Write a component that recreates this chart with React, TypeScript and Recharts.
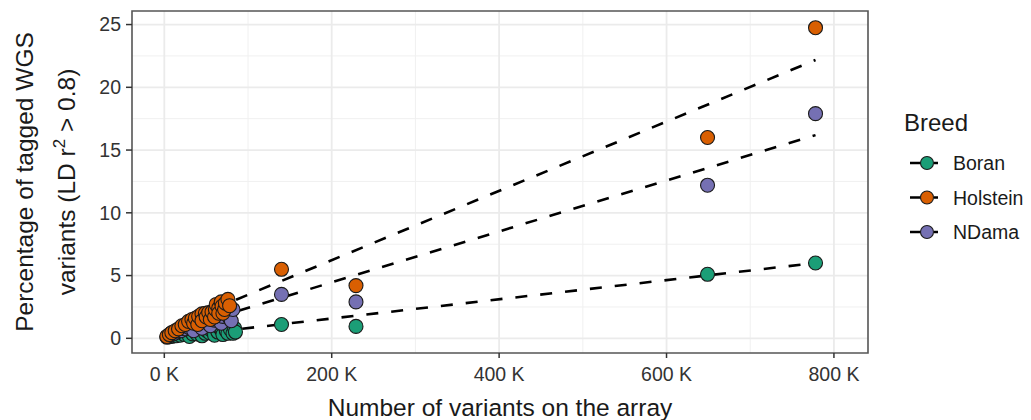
import React from 'react';
import {
  ComposedChart,
  Scatter,
  Line,
  XAxis,
  YAxis,
  CartesianGrid,
  ReferenceArea,
  Legend,
  Label,
} from 'recharts';

// ---------- data ----------
const breeds = ['Boran', 'Holstein', 'NDama'];
const breedColors = ['#1B9E77', '#D95F02', '#7570B3'];

const xTicks = [0, 200, 400, 600, 800];
const yTicks = [0, 5, 10, 15, 20, 25];
const xMinorGrid = [100, 300, 500, 700];
const yMinorGrid = [2.5, 7.5, 12.5, 17.5, 22.5];
const xDomain = [-38.6, 840.7];
const yDomain = [-1.17, 26.08];

// number of variants (K) and percentage tagged, per breed
const boranX = [4, 9, 14, 19, 24, 29, 30, 34, 39, 44, 45, 49, 50, 54, 55, 59, 60, 62, 64, 66, 69, 70, 72, 74, 76, 78, 79, 82, 84, 85, 140, 229, 649, 778];
const boranY = [0.1, 0.15, 0.2, 0.25, 0.3, 0.3, 0.15, 0.35, 0.35, 0.4, 0.2, 0.4, 0.65, 0.45, 0.7, 0.5, 0.25, 0.8, 0.5, 0.85, 0.6, 0.3, 1.0, 0.6, 0.4, 0.95, 0.7, 0.4, 0.8, 0.5, 1.1, 0.95, 5.1, 6.0];

const holsteinX = [3, 6, 9, 13, 17, 21, 25, 29, 33, 35, 37, 40, 41, 45, 45, 49, 50, 53, 55, 57, 60, 61, 62, 65, 65, 68, 69, 70, 72, 73, 76, 78, 140, 229, 649, 778];
const holsteinY = [0.15, 0.3, 0.45, 0.6, 0.75, 1.0, 1.1, 1.35, 1.5, 1.2, 1.6, 1.1, 1.75, 1.95, 1.4, 2.0, 1.7, 2.05, 1.5, 2.1, 1.7, 2.3, 2.7, 2.4, 2.0, 2.9, 2.55, 2.0, 2.3, 2.8, 3.1, 2.6, 5.5, 4.2, 16.0, 24.75];

const ndamaX = [3, 7, 11, 15, 20, 25, 30, 35, 35, 40, 45, 45, 50, 50, 55, 55, 60, 62, 65, 68, 70, 72, 75, 78, 79, 80, 82, 140, 229, 649, 778];
const ndamaY = [0.1, 0.25, 0.35, 0.5, 0.6, 0.75, 0.85, 1.0, 0.6, 1.1, 1.2, 0.8, 1.3, 1.6, 1.35, 1.0, 1.45, 1.9, 1.6, 1.2, 1.75, 2.2, 1.9, 1.6, 2.1, 1.4, 2.3, 3.5, 2.9, 12.2, 17.9];

// fitted (linear) trend per breed, at min and max of x
const boranFitX = [4, 778];
const boranFitY = [0.08, 6.0];
const holsteinFitX = [3, 778];
const holsteinFitY = [0.79, 22.18];
const ndamaFitX = [3, 778];
const ndamaFitY = [0.46, 16.19];

const toPoints = (xs: number[], ys: number[]) => xs.map((x, i) => ({ x, y: ys[i] }));

const pointSets = [toPoints(boranX, boranY), toPoints(holsteinX, holsteinY), toPoints(ndamaX, ndamaY)];
const fitSets = [
  toPoints(boranFitX, boranFitY),
  toPoints(holsteinFitX, holsteinFitY),
  toPoints(ndamaFitX, ndamaFitY),
];

const FONT = '"Liberation Sans", Arial, Helvetica, sans-serif';

const makeDot = (fill: string) => (props: any) => {
  const { cx, cy } = props;
  if (cx == null || cy == null) return <g />;
  return <circle cx={cx} cy={cy} r={7} fill={fill} stroke="#1a1a1a" strokeWidth={1.1} />;
};

const YTitle = () => (
  <g fontFamily={FONT} fill="#000">
    <text transform="translate(33,182) rotate(-90)" textAnchor="middle" fontSize={24.5} fill="#1a1a1a">
      Percentage of tagged WGS
    </text>
    <text transform="translate(75,182) rotate(-90)" textAnchor="middle" fontSize={24.5} fill="#1a1a1a">
      variants (LD r
      <tspan dy={-10} fontSize={17}>
        2
      </tspan>
      <tspan dy={10}> &gt; 0.8)</tspan>
    </text>
  </g>
);

const XTitle = () => (
  <text x={500} y={416} textAnchor="middle" fontSize={24.5} fontFamily={FONT} fill="#1a1a1a">
    Number of variants on the array
  </text>
);

const LegendContent = () => (
  <svg width={136} height={150} style={{ fontFamily: FONT, overflow: 'visible' }}>
    <text x={9} y={31} fontSize={24} fill="#1a1a1a">
      Breed
    </text>
    {breeds.map((b, i) => {
      const cy = 63 + 34.5 * i;
      return (
        <g key={b}>
          <line x1={15} x2={43} y1={cy} y2={cy} stroke="#000" strokeWidth={2.6} strokeDasharray="12 12" />
          <circle cx={32} cy={cy} r={6.5} fill={breedColors[i]} stroke="#1a1a1a" strokeWidth={1.1} />
          <text x={58} y={cy + 7} fontSize={19.5} fill="#1a1a1a">
            {b}
          </text>
        </g>
      );
    })}
  </svg>
);

export default function App() {
  return (
    <div style={{ position: 'absolute', left: 0, top: 0, background: '#fff', fontFamily: FONT }}>
      <ComposedChart width={1031} height={420} margin={{ top: 11, right: 163, bottom: 10, left: 0 }}>
        <CartesianGrid
          horizontalValues={yMinorGrid}
          verticalValues={xMinorGrid}
          stroke="#f0f0f0"
          strokeWidth={1}
        />
        <CartesianGrid horizontalValues={yTicks} verticalValues={xTicks} stroke="#ebebeb" strokeWidth={1.8} />
        <XAxis
          type="number"
          dataKey="x"
          domain={xDomain}
          allowDataOverflow
          ticks={xTicks}
          tickFormatter={(v: number) => `${v} K`}
          axisLine={false}
          tickSize={5}
          tickMargin={9}
          tickLine={{ stroke: '#333', strokeWidth: 1.5 }}
          tick={{ fontSize: 19.5, fill: '#333', fontFamily: FONT }}
          height={57}
        >
          <Label content={XTitle} />
        </XAxis>
        <YAxis
          type="number"
          dataKey="y"
          domain={yDomain}
          allowDataOverflow
          ticks={yTicks}
          axisLine={false}
          tickSize={6}
          tickMargin={5}
          tickLine={{ stroke: '#333', strokeWidth: 1.5 }}
          tick={{ fontSize: 19.5, fill: '#333', fontFamily: FONT }}
          width={132}
        >
          <Label content={YTitle} />
        </YAxis>
        <ReferenceArea
          x1={xDomain[0]}
          x2={xDomain[1]}
          y1={yDomain[0]}
          y2={yDomain[1]}
          fill="none"
          fillOpacity={0}
          stroke="#555"
          strokeWidth={1.6}
        />
        {fitSets.map((d, i) => (
          <Line
            key={'fit-' + breeds[i]}
            data={d}
            dataKey="y"
            type="linear"
            stroke="#000"
            strokeWidth={2.6}
            strokeDasharray="12 13"
            dot={false}
            activeDot={false}
            isAnimationActive={false}
            legendType="none"
          />
        ))}
        {[0, 2, 1].map((i) => (
          <Scatter
            key={'pts-' + breeds[i]}
            name={breeds[i]}
            data={pointSets[i]}
            dataKey="y"
            fill={breedColors[i]}
            shape={makeDot(breedColors[i])}
            isAnimationActive={false}
          />
        ))}
        <Legend
          layout="vertical"
          align="center"
          verticalAlign="middle"
          content={LegendContent}
          wrapperStyle={{ left: 895, top: 100, width: 136, height: 150 }}
        />
      </ComposedChart>
    </div>
  );
}
